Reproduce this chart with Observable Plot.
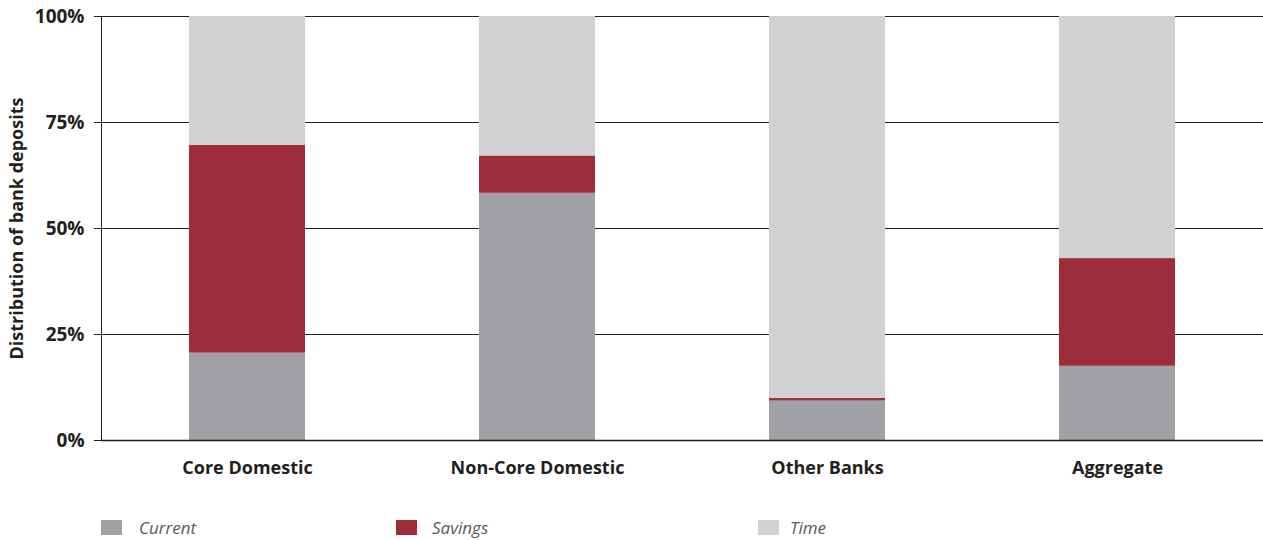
<!DOCTYPE html>
<html>
<head>
<meta charset="utf-8">
<script src="https://cdn.jsdelivr.net/npm/d3@7"></script>
<script src="https://cdn.jsdelivr.net/npm/@observablehq/plot@0.6"></script>
<style>
  html, body { margin: 0; padding: 0; background: #fff; }
  #wrap { position: relative; width: 1263px; height: 540px; font-family: "Open Sans", sans-serif; }
  .leg { position: absolute; top: 516px; display: flex; align-items: center; font-style: italic; font-size: 17px; color: #58595b; }
  .sw { width: 21px; height: 15px; }
</style>
</head>
<body>
<div id="wrap"><div id="chart"></div></div>
<script>
const categories = ["Core Domestic", "Non-Core Domestic", "Other Banks", "Aggregate"];
const seriesNames = ["Current", "Savings", "Time"];
const current = [20.6, 58.3, 9.3, 17.5];
const savings = [49.0, 8.8, 0.6, 25.4];
const time = [30.4, 32.9, 90.1, 57.1];
const colors = ["#a0a1a5", "#9e2d3a", "#d1d2d4"];
const yTicks = [0, 25, 50, 75, 100];

const data = [];
categories.forEach((c, i) => {
  data.push({cat: c, series: "Current", value: current[i]});
  data.push({cat: c, series: "Savings", value: savings[i]});
  data.push({cat: c, series: "Time", value: time[i]});
});

const chart = Plot.plot({
  width: 1263,
  height: 495,
  marginTop: 16,
  marginBottom: 55,
  marginLeft: 101,
  marginRight: 0,
  style: {fontFamily: "'Open Sans', sans-serif", fontSize: "18px", fontWeight: "bold", color: "#231f20", background: "#fff"},
  x: {domain: categories, paddingInner: 0.6, paddingOuter: 0.3, label: null},
  y: {domain: [0, 100], label: null},
  color: {domain: seriesNames, range: colors},
  marks: [
    Plot.ruleY(yTicks, {stroke: "#231f20", strokeWidth: 1}),
    Plot.barY(data, {x: "cat", y: "value", fill: "series", order: seriesNames}),
    Plot.ruleY([0], {stroke: "#231f20", strokeWidth: 1.5}),
    Plot.frame({anchor: "left", stroke: "#231f20", strokeWidth: 1}),
    Plot.axisY({ticks: yTicks, tickFormat: d => d + "%", tickSize: 7, tickPadding: 10, fontSize: 19,
      stroke: "#231f20", fill: "#231f20", label: null}),
    Plot.axisY({ticks: [], label: "Distribution of bank deposits", labelAnchor: "center", labelArrow: "none", labelOffset: 91,
      fontSize: 18, fill: "#231f20"}),
    Plot.axisX({tickSize: 0, tickPadding: 21, label: null, fontSize: 18, fill: "#231f20"})
  ]
});
document.getElementById("chart").appendChild(chart);

const legX = [101, 396, 758];
const legGap = [17, 15, 11];
seriesNames.forEach((s, i) => {
  const d = document.createElement("div");
  d.className = "leg";
  d.style.left = legX[i] + "px";
  d.innerHTML = `<div class="sw" style="background:${colors[i]};margin-right:${legGap[i]}px"></div><span>${s}</span>`;
  document.getElementById("wrap").appendChild(d);
});
</script>
</body>
</html>
